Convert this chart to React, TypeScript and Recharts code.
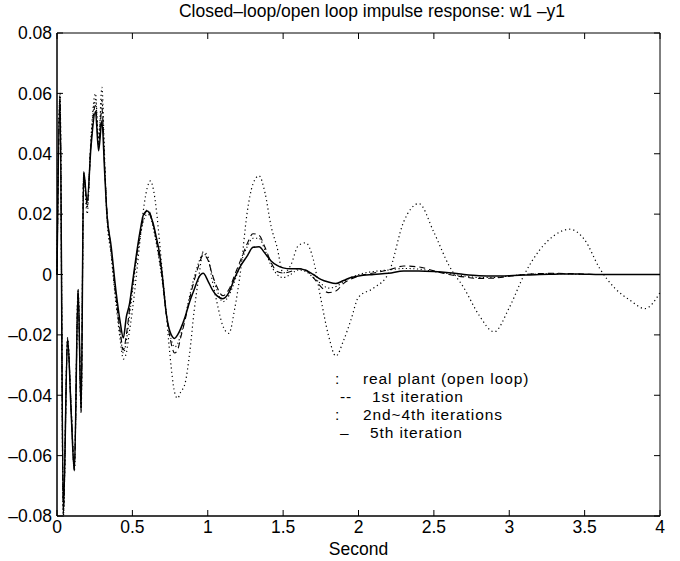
import { Legend, Line, LineChart, ReferenceArea, XAxis, YAxis } from "recharts";

// time axis (seconds), dense where the response is fast
const TIME = [
  0, 0.02, 0.042, 0.07, 0.095, 0.115, 0.14, 0.16, 0.177, 0.2,
  0.225, 0.255, 0.276, 0.298, 0.315, 0.33, 0.36, 0.39, 0.42, 0.44,
  0.46, 0.48, 0.5, 0.525, 0.55, 0.575, 0.6, 0.62, 0.64, 0.66,
  0.68, 0.7, 0.725, 0.75, 0.78, 0.8, 0.82, 0.85, 0.88, 0.91,
  0.94, 0.97, 1.0, 1.03, 1.06, 1.1, 1.14, 1.18, 1.22, 1.26,
  1.3, 1.34, 1.38, 1.42, 1.46, 1.5, 1.55, 1.6, 1.65, 1.7,
  1.75, 1.8, 1.85, 1.9, 1.95, 2.0, 2.1, 2.2, 2.3, 2.4,
  2.5, 2.6, 2.7, 2.8, 2.9, 3.0, 3.1, 3.2, 3.3, 3.4,
  3.5, 3.6, 3.7, 3.8, 3.9, 4.0,
];

const REAL_PLANT = [
  0, 0.06, -0.08, -0.021, -0.046, -0.065, -0.005, -0.046, 0.033, 0.02,
  0.045, 0.06, 0.044, 0.062, 0.04, 0.02, 0.006, -0.009, -0.022, -0.028,
  -0.026, -0.019, -0.012, -0.001, 0.011, 0.022, 0.029, 0.031, 0.028, 0.021,
  0.011, 0.0, -0.013, -0.027, -0.039, -0.041, -0.039, -0.036, -0.026, -0.012,
  -0.001, 0.0075, 0.006, -0.002, -0.009, -0.017, -0.0195, -0.011, 0.002, 0.02,
  0.03, 0.0327, 0.027, 0.016, 0.009, 0.0005, 0.003, 0.0095, 0.0105, 0.005,
  -0.008, -0.02, -0.027, -0.022, -0.015, -0.0075, -0.0045, 0.0005, 0.0175, 0.0235,
  0.014, 0.003, -0.0045, -0.0135, -0.019, -0.011, 0.0, 0.008, 0.013, 0.015,
  0.0115, 0.002, -0.0045, -0.0085, -0.0113, -0.006,
];

const FIRST_ITER = [
  0, 0.058, -0.078, -0.022, -0.046, -0.064, -0.006, -0.044, 0.033, 0.023,
  0.043, 0.056, 0.043, 0.055, 0.037, 0.022, 0.008, -0.007, -0.019, -0.025,
  -0.02, -0.012, -0.004, 0.005, 0.013, 0.019, 0.0215, 0.02, 0.016, 0.011,
  0.005, -0.002, -0.013, -0.021, -0.026, -0.025, -0.021, -0.015, -0.008, -0.002,
  0.003, 0.0065, 0.005, 0.0, -0.004, -0.007, -0.005, 0.0, 0.005, 0.01,
  0.0135, 0.013, 0.009, 0.004, 0.001, 0.0005, 0.001, 0.002, 0.0015, -0.001,
  -0.004, -0.006, -0.0055, -0.003, -0.0015, -0.0005, 0.0005, 0.0015, 0.0028, 0.0025,
  0.0012, 0, -0.0008, -0.0013, -0.0012, -0.0006, 0, 0.0003, 0.0004, 0.0003,
  0.0001, 0, 0, 0, 0, 0,
];

const MID_ITERS = [
  0, 0.06, -0.08, -0.022, -0.045, -0.065, -0.005, -0.045, 0.034, 0.022,
  0.044, 0.058, 0.045, 0.058, 0.038, 0.021, 0.007, -0.008, -0.02, -0.026,
  -0.022, -0.014, -0.006, 0.004, 0.012, 0.018, 0.02, 0.019, 0.015, 0.01,
  0.004, -0.003, -0.013, -0.02, -0.024, -0.023, -0.02, -0.014, -0.007, -0.001,
  0.004, 0.007, 0.005, 0.0, -0.005, -0.009, -0.007, -0.002, 0.004, 0.009,
  0.012, 0.012, 0.008, 0.003, 0.0, -0.001, 0.0, 0.0015, 0.001, -0.001,
  -0.003, -0.0045, -0.004, -0.0025, -0.001, 0, 0.001, 0.0015, 0.002, 0.0018,
  0.001, 0.0003, -0.0005, -0.001, -0.001, -0.0005, 0, 0.0002, 0.0003, 0.0002,
  0, 0, 0, 0, 0, 0,
];

const FIFTH_ITER = [
  0, 0.059, -0.079, -0.021, -0.047, -0.065, -0.005, -0.045, 0.034, 0.024,
  0.042, 0.054, 0.041, 0.051, 0.035, 0.021, 0.009, -0.005, -0.016, -0.021,
  -0.014, -0.01, -0.003, 0.006, 0.014, 0.02, 0.021, 0.0195, 0.0165, 0.012,
  0.007, -0.001, -0.013, -0.019, -0.0212, -0.02, -0.018, -0.014, -0.009, -0.005,
  -0.001, 0.0004, -0.002, -0.005, -0.007, -0.008, -0.006, -0.001, 0.003, 0.006,
  0.009, 0.0092, 0.007, 0.0045, 0.003, 0.0022, 0.0019, 0.0019, 0.0014, 0.0,
  -0.0016, -0.0025, -0.003, -0.002, -0.001, -0.0005, 0, 0.0004, 0.0012, 0.0012,
  0.001, 0.0006, 0, -0.0004, -0.0005, -0.0004, -0.0002, 0, 0.0001, 0.0002,
  0.0001, 0, 0, 0, 0, 0,
];

const X_TICKS = [0, 0.5, 1, 1.5, 2, 2.5, 3, 3.5, 4];
const Y_TICKS = [-0.08, -0.06, -0.04, -0.02, 0, 0.02, 0.04, 0.06, 0.08];

const TITLE = "Closed–loop/open loop impulse response: w1 –y1";
const X_LABEL = "Second";

const LEGEND_ROWS = [
  { mark: ":", markX: 10, label: "real plant (open loop)", labelX: 38 },
  { mark: "--", markX: 15, label: "1st iteration", labelX: 47 },
  { mark: ":", markX: 10, label: "2nd~4th iterations", labelX: 38 },
  { mark: "–", markX: 15, label: "5th iteration", labelX: 45 },
];

const W = 680;
const H = 561;
const MARGIN = { top: 33, right: 20, bottom: 0, left: 0 };
const Y_AXIS_W = 57;
const X_AXIS_H = 45;
const PLOT_W = W - Y_AXIS_W - MARGIN.right;
const PLOT_H = H - MARGIN.top - X_AXIS_H;
const TICK = 6;
const Y_TICK_GAP = 5;
const X_TICK_GAP = 4;
const FONT = "'Liberation Sans', Arial, Helvetica, sans-serif";
const FS = 17.5;
const LEGEND_FS = 15.5;
const ROW_H = 18;

const data = TIME.map((t, i) => ({
  t,
  real: REAL_PLANT[i],
  first: FIRST_ITER[i],
  mid: MID_ITERS[i],
  fifth: FIFTH_ITER[i],
}));

const fmtY = (v: number) => (v === 0 ? "0" : (v < 0 ? "–" : "") + Math.abs(v).toFixed(2));

function YTick(props: any) {
  const { x, y, payload } = props;
  const ax = x + Y_TICK_GAP;
  return (
    <g>
      <line x1={ax} x2={ax + TICK} y1={y} y2={y} stroke="#000" />
      <line x1={ax + PLOT_W} x2={ax + PLOT_W - TICK} y1={y} y2={y} stroke="#000" />
      <text x={x} y={y} dy="0.36em" textAnchor="end" fontSize={FS} fontFamily={FONT} fill="#000">
        {fmtY(payload.value)}
      </text>
    </g>
  );
}

function XTick(props: any) {
  const { x, y, payload } = props;
  const ay = y - X_TICK_GAP;
  return (
    <g>
      <line x1={x} x2={x} y1={ay} y2={ay - TICK} stroke="#000" />
      <line x1={x} x2={x} y1={ay - PLOT_H} y2={ay - PLOT_H + TICK} stroke="#000" />
      <text x={x} y={y} dy="0.72em" textAnchor="middle" fontSize={FS} fontFamily={FONT} fill="#000">
        {String(payload.value)}
      </text>
    </g>
  );
}

function LegendText() {
  return (
    <div
      style={{
        fontFamily: FONT,
        fontSize: LEGEND_FS,
        letterSpacing: 0.9,
        color: "#000",
        lineHeight: `${ROW_H}px`,
      }}
    >
      {LEGEND_ROWS.map((r, i) => (
        <div key={i} style={{ position: "relative", height: ROW_H, whiteSpace: "nowrap" }}>
          <span style={{ position: "absolute", left: r.markX }}>{r.mark}</span>
          <span style={{ position: "absolute", left: r.labelX }}>{r.label}</span>
        </div>
      ))}
    </div>
  );
}

export default function App() {
  return (
    <div style={{ position: "absolute", left: 0, top: 0, width: W, height: H, background: "#fff" }}>
      <div
        style={{
          position: "absolute",
          left: 72,
          top: 3,
          width: 600,
          textAlign: "center",
          fontFamily: FONT,
          fontSize: FS,
          lineHeight: "17px",
          color: "#000",
          whiteSpace: "nowrap",
        }}
      >
        {TITLE}
      </div>
      <LineChart width={W} height={H} data={data} margin={MARGIN}>
        <XAxis
          dataKey="t"
          type="number"
          domain={[0, 4]}
          ticks={X_TICKS}
          interval={0}
          height={X_AXIS_H}
          tickSize={0}
          tickMargin={X_TICK_GAP}
          tickLine={false}
          tick={XTick}
          stroke="#000"
          label={{ value: X_LABEL, position: "insideBottom", offset: 6, fill: "#000", fontSize: FS, fontFamily: FONT }}
        />
        <YAxis
          type="number"
          domain={[-0.08, 0.08]}
          ticks={Y_TICKS}
          interval={0}
          width={Y_AXIS_W}
          tickSize={0}
          tickMargin={Y_TICK_GAP}
          tickLine={false}
          tick={YTick}
          stroke="#000"
        />
        <ReferenceArea x1={0} x2={4} y1={-0.08} y2={0.08} fill="none" stroke="#000" strokeWidth={1} />
        <Line type="monotone" dataKey="real" stroke="#000" strokeWidth={1.2} strokeDasharray="1.2 3" dot={false} activeDot={false} isAnimationActive={false} />
        <Line type="monotone" dataKey="mid" stroke="#000" strokeWidth={1.1} strokeDasharray="1.2 2.5" dot={false} activeDot={false} isAnimationActive={false} />
        <Line type="monotone" dataKey="first" stroke="#000" strokeWidth={1.1} strokeDasharray="6 4" dot={false} activeDot={false} isAnimationActive={false} />
        <Line type="monotone" dataKey="fifth" stroke="#000" strokeWidth={1.5} dot={false} activeDot={false} isAnimationActive={false} />
        <Legend
          layout="horizontal"
          verticalAlign="middle"
          align="center"
          wrapperStyle={{ left: 325, top: 370, width: 250, height: 4 * ROW_H }}
          content={() => <LegendText />}
        />
      </LineChart>
    </div>
  );
}
